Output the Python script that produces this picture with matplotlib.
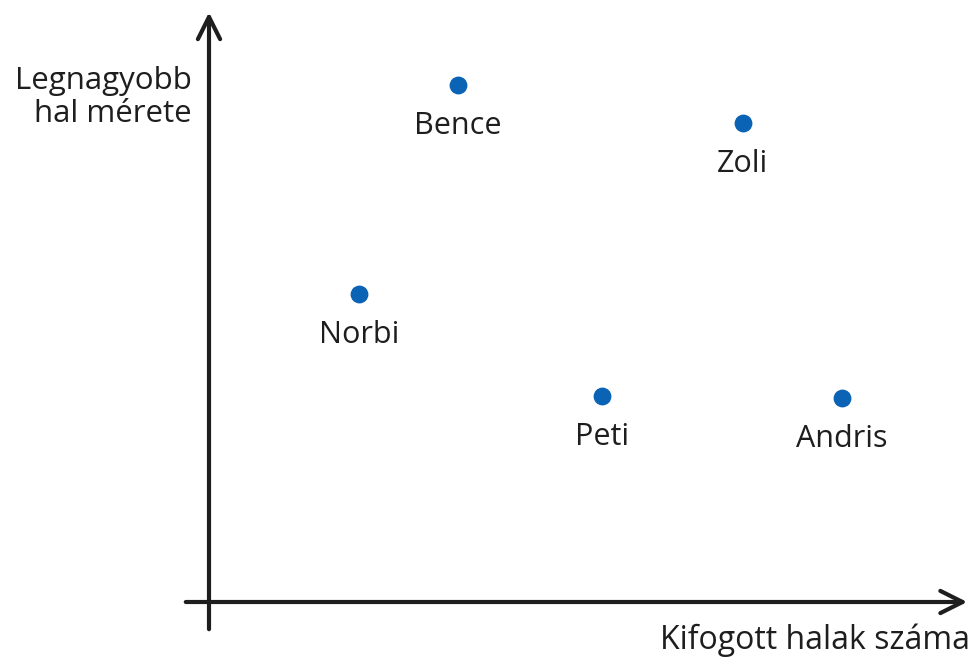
import matplotlib
matplotlib.use("Agg")
import matplotlib.pyplot as plt

names = ["Bence", "Zoli", "Norbi", "Peti", "Andris"]
halak_szama = [4.98, 10.68, 3.0, 7.86, 12.66]
hal_merete = [10.34, 9.58, 6.16, 4.12, 4.08]

plt.rcParams['font.family'] = ['Open Sans', 'DejaVu Sans']

fig = plt.figure(figsize=(9.76, 6.59), dpi=100)
ax = fig.add_axes([0, 0, 1, 1])
ax.set_xlim(-4.18, 15.34)
ax.set_ylim(-1.14, 12.04)
ax.axis('off')

# axes with open arrowheads
arrow = dict(arrowstyle='->', lw=3, color='#1e1e1e', mutation_scale=40)
ax.annotate('', xy=(15.22, 0), xytext=(-0.52, 0), arrowprops=arrow)
ax.annotate('', xy=(0, 11.85), xytext=(0, -0.6), arrowprops=arrow)

ax.scatter(halak_szama, hal_merete, s=140, color='#0b63b5', zorder=3)
for n, x, y in zip(names, halak_szama, hal_merete):
    ax.text(x, y - 0.82, n, ha='center', va='center', fontsize=22, color='#1e1e1e')

ax.text(-0.34, 10.09, 'Legnagyobb\nhal mérete', ha='right', va='center',
        fontsize=22.5, color='#1e1e1e', linespacing=1.15)
ax.text(15.22, -0.76, 'Kifogott halak száma', ha='right', va='center',
        fontsize=23, color='#1e1e1e')

fig.savefig('out.png', dpi=100)
